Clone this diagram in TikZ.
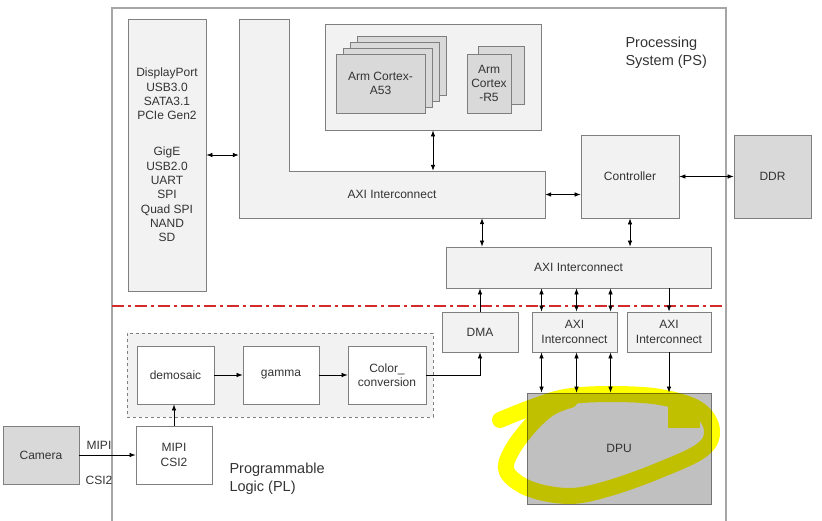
\documentclass[tikz,border=0pt]{standalone}
\usepackage{fontspec}
\setmainfont{Liberation Sans}
\usetikzlibrary{arrows.meta,positioning,calc}
\definecolor{boxline}{HTML}{7F7F7F}
\definecolor{frameline}{HTML}{A6A6A6}
\definecolor{lightfill}{HTML}{F2F2F2}
\definecolor{darkfill}{HTML}{D9D9D9}
\definecolor{dpufill}{HTML}{C0C0C0}
\definecolor{txtgray}{HTML}{333333}
\definecolor{plred}{HTML}{D42A2A}
\definecolor{marker}{HTML}{FFFF00}

\begin{document}
\begin{tikzpicture}[x=1pt,y=-1pt,
  font=\fontsize{12}{14.3}\selectfont, text=txtgray,
  >={Latex[length=6pt,width=4.5pt]},
  boxpen/.style={draw=boxline,line width=0.8pt},
  blk/.style={rectangle,boxpen,fill=lightfill,align=center,inner sep=2pt},
  darkblk/.style={blk,fill=darkfill},
  whiteblk/.style={blk,fill=white},
  link/.style={line width=0.7pt,draw=black},
  bigtext/.style={font=\fontsize{14.5}{18}\selectfont,align=left,anchor=west},
  hilite/.style={draw=marker,line width=16pt,line cap=round,line join=round}]
\useasboundingbox (0,0) rectangle (822,521);

% PS / PL frame and boundary
\draw[frameline,line width=1.2pt] (112,521) -- (112,8) -- (726,8) -- (726,521);
\draw[plred,line width=1.5pt,dash pattern=on 12pt off 4pt on 3pt off 4pt] (112,306) -- (726,306);
\node[bigtext] (pslbl) at (622,53) {Processing\\System (PS)};
\node[bigtext] (pllbl) at (226,479) {Programmable\\Logic (PL)};

% Processing system
\node[blk,minimum width=78pt,minimum height=272pt] (periph) at (167,155)
  {DisplayPort\\USB3.0\\SATA3.1\\PCIe Gen2\\[22pt]GigE\\USB2.0\\UART\\SPI\\Quad SPI\\NAND\\SD};
\draw[boxpen,fill=lightfill] (239,19) -- (289,19) -- (289,171) -- (545,171) -- (545,218) -- (239,218) -- cycle;
\node[minimum width=306pt,minimum height=47pt,inner sep=0pt] (axil) at (392,194.5) {AXI Interconnect};

\node[blk,minimum width=216pt,minimum height=106pt] (cortex) at (433,77) {};
\foreach \i in {3,2,1}
  \node[darkblk,minimum width=89pt,minimum height=59pt] at (380.5+7*\i,83.5-6*\i) {};
\node[darkblk,minimum width=89pt,minimum height=59pt] (a53) at (380.5,83.5) {Arm Cortex-\\A53};
\node[darkblk,minimum width=46pt,minimum height=58pt] (r5back) at (501,75) {};
\node[darkblk,minimum width=44pt,minimum height=59pt] (r5) at (489,83.5) {Arm\\Cortex\\-R5};

\node[blk,minimum width=98pt,minimum height=83pt] (ctrl) at (630,176.5) {Controller};
\node[darkblk,minimum width=77pt,minimum height=83pt] (ddr) at (772.5,176.5) {DDR};
\node[blk,minimum width=265pt,minimum height=41pt] (axi2) at (578.5,267.5) {AXI Interconnect};

% Programmable logic
\node[blk,minimum width=76pt,minimum height=40pt] (dma) at (480,332) {DMA};
\node[blk,minimum width=85pt,minimum height=40pt] (aximid) at (574.5,332) {AXI\\Interconnect};
\node[blk,minimum width=84pt,minimum height=40pt] (axir) at (669,332) {AXI\\Interconnect};
\node[rectangle,draw=dpufill!60!black,line width=0.8pt,fill=dpufill,minimum width=184pt,minimum height=111pt] (dpu) at (619,448.5) {DPU};

\node[rectangle,draw=boxline,dashed,line width=0.8pt,fill=lightfill,minimum width=306pt,minimum height=84pt] (pipe) at (280,375) {};
\node[whiteblk,minimum width=77pt,minimum height=58pt] (demosaic) at (175.5,375) {demosaic};
\node[whiteblk,minimum width=76pt,minimum height=58pt] (gamma) at (281,375) {gamma};
\node[whiteblk,minimum width=78pt,minimum height=58pt] (colorconv) at (387,375) {Color\_\\conversion};
\node[whiteblk,minimum width=76pt,minimum height=58pt] (csi) at (174,455) {MIPI\\CSI2};
\node[darkblk,minimum width=76pt,minimum height=58pt] (camera) at (41,455) {Camera};
\node (mipilbl) at (99,445) {MIPI};
\node (csilbl) at (99,480) {CSI2};

% connections
\draw[link,<->] (periph.east) -- (periph.east -| axil.west);
\draw[link,<->] (cortex.south) -- (cortex.south |- axil.north);
\draw[link,<->] (axil.east) -- (axil.east -| ctrl.west);
\draw[link,<->] (ctrl.east) -- (ddr.west);
\draw[link,<->] (ctrl.south) -- (ctrl.south |- axi2.north);
\draw[link,<->] ([xshift=2pt]dma.north |- axil.south) -- ([xshift=2pt]dma.north |- axi2.north);
\draw[link,->] (dma.north) -- (dma.north |- axi2.south);
\foreach \d in {-33,2,36} {
  \draw[link,<->] ([xshift=\d pt]aximid.north) -- ([xshift=\d pt]aximid.north |- axi2.south);
  \draw[link,<->] ([xshift=\d pt]aximid.south) -- ([xshift=\d pt]aximid.south |- dpu.north);
}
\draw[link,->] (axir.north |- axi2.south) -- (axir.north);
\draw[link,->] (axir.south) -- (axir.south |- dpu.north);
\draw[link,->] (demosaic) -- (gamma);
\draw[link,->] (gamma) -- (colorconv);
\draw[link,->] (colorconv.east) -- (colorconv.east -| dma.south) -- (dma.south);
\draw[link,->] (csi.north) -- (csi.north |- demosaic.south);
\draw[link,->] (camera.east) -- (csi.west);

% highlight round the DPU
\begin{scope}[blend mode=multiply]
\draw[hilite] plot[smooth,tension=0.6] coordinates {(500,420) (530,408) (565,397) (610,394)
  (660,397) (698,409) (712,430) (702,450) (660,470) (610,488) (570,496) (530,489)
  (507,472) (511,452) (530,426) (550,408) (570,400)};
\fill[marker] (668,405) rectangle (700,428);
\end{scope}
\end{tikzpicture}
\end{document}
